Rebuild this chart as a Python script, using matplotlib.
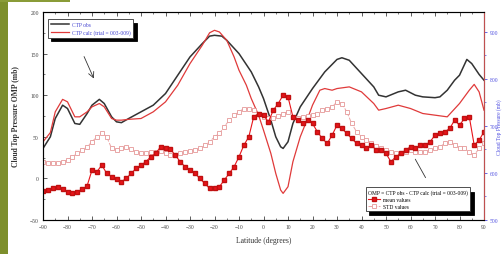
import numpy as np
import matplotlib
matplotlib.use("Agg")
import matplotlib.pyplot as plt
from matplotlib.patches import Rectangle

plt.rcParams['font.family'] = ['Liberation Serif', 'DejaVu Serif']

# CTP obs / calc curves (latitude, value on left scale)
obs_lat = [-90, -87, -85, -82, -80, -77, -75, -72, -70, -67, -65, -62, -60, -58, -55, -50, -45, -40,
           -35, -30, -25, -22, -20, -17, -15, -10, -5, -2, 0, 3, 5, 7, 8, 10, 12, 15, 20, 25, 30, 32,
           35, 40, 45, 47, 50, 55, 58, 62, 65, 70, 72, 75, 78, 80, 83, 85, 88, 90]
obs_val = [36, 50, 72, 88, 84, 66, 65, 78, 88, 95, 90, 74, 68, 67, 72, 80, 88, 102,
           124, 146, 162, 171, 172, 171, 166, 150, 128, 110, 96, 70, 50, 38, 36, 44, 66, 86, 108, 128, 143, 145,
           142, 126, 110, 100, 98, 104, 106, 100, 98, 97, 98, 106, 118, 124, 143, 138, 125, 118]

calc_lat = [-90, -87, -85, -82, -80, -77, -75, -72, -70, -67, -65, -62, -60, -58, -55, -50, -45, -40,
            -35, -30, -25, -22, -20, -18, -15, -12, -10, -7, -5, -2, 0, 3, 5, 7, 8, 10, 12, 15, 18, 20,
            23, 25, 28, 30, 35, 40, 45, 47, 50, 55, 60, 65, 70, 75, 80, 84, 86, 88, 90]
calc_val = [44, 55, 80, 95, 92, 74, 74, 80, 86, 90, 86, 72, 70, 70, 71, 72, 80, 92,
            112, 138, 160, 175, 178, 176, 166, 146, 130, 112, 96, 76, 58, 30, 6, -14, -18, -10, 20, 50, 72, 88,
            106, 108, 106, 108, 110, 104, 90, 82, 84, 88, 84, 78, 76, 74, 90, 106, 113, 104, 82]

# OMP statistics every 2 degrees
omp_lat = list(range(-90, 91, 2))
mean_val = [-15, -14, -12, -10, -13, -16, -18, -16, -13, -9,
            10, 8, 16, 6, 2, -1, -4, 0, 6, 12,
            16, 20, 26, 30, 38, 37, 35, 28, 20, 14,
            10, 6, 0, -6, -12, -12, -10, -2, 6, 14,
            26, 40, 50, 74, 78, 76, 68, 82, 90, 100,
            98, 74, 70, 66, 70, 66, 56, 48, 42, 52,
            64, 60, 54, 48, 42, 40, 36, 40, 34, 34,
            30, 20, 26, 30, 34, 38, 36, 40, 40, 44,
            52, 54, 56, 60, 70, 64, 72, 74, 40, 46, 56]
std_val = [20, 19, 18, 18, 20, 22, 26, 30, 34, 38,
           44, 50, 55, 50, 36, 34, 36, 38, 35, 32,
           30, 31, 32, 32, 33, 30, 28, 28, 30, 32,
           33, 34, 36, 40, 44, 50, 54, 62, 70, 76,
           80, 84, 84, 82, 78, 74, 72, 73, 75, 78,
           80, 74, 72, 74, 75, 76, 78, 82, 84, 86,
           92, 90, 80, 66, 56, 50, 46, 42, 39, 37,
           34, 32, 30, 30, 32, 34, 32, 32, 32, 34,
           36, 38, 42, 44, 40, 37, 36, 32, 28, 36, 42]

fig = plt.figure(figsize=(5.03, 2.55), dpi=100, facecolor='white')
fig.patches.append(Rectangle((0, 0), 8 / 503, 1, transform=fig.transFigure,
                             facecolor='#7d8f2c', edgecolor='none', zorder=0))
fig.patches.append(Rectangle((0, 1 - 3 / 255), 70 / 503, 3 / 255, transform=fig.transFigure,
                             facecolor='#8a9c38', edgecolor='none', zorder=0))

ax = fig.add_axes([43 / 503, 1 - 221 / 255, 441 / 503, 208 / 255])
ax.set_xlim(-90, 90)
ax.set_ylim(-50, 200)

l1, = ax.plot(obs_lat, obs_val, color='#333333', lw=1.1, label='CTP obs')
l2, = ax.plot(calc_lat, calc_val, color='#e03a3a', lw=0.9, label='CTP calc (trial = 003-009)')
l4, = ax.plot(omp_lat, std_val, color='#eba5a5', lw=0.7, ls='--', marker='s', ms=2.6,
              mfc='white', mec='#e59898', mew=0.6, label='STD values')
l3, = ax.plot(omp_lat, mean_val, color='#e8141a', lw=0.8, marker='s', ms=2.6,
              mfc='#e8141a', mec='#c01010', label='mean values')

ax.set_xticks(range(-90, 91, 10))
ax.set_xticks(range(-90, 91, 5), minor=True)
ax.set_yticks(range(-50, 201, 50))
ax.set_yticks(range(-50, 201, 25), minor=True)
ax.tick_params(which='both', direction='in', top=True, labelsize=4, pad=3, colors='#444444')
ax.tick_params(which='major', length=3, width=0.6)
ax.tick_params(which='minor', length=1.5, width=0.5)
for s in ax.spines.values():
    s.set_linewidth(0.8)
    s.set_color('#555555')
ax.set_xlabel('Latitude (degrees)', fontsize=5.5, labelpad=5, color='#333333')
ax.set_ylabel('Cloud Top Pressure OMP (mb)', fontsize=5.5, fontweight='bold', labelpad=7, color='#333333')

ax2 = ax.twinx()
ax2.set_ylim(500, 942.5)
ax2.set_yticks([500, 600, 700, 800, 900])
ax2.set_yticks(range(500, 901, 50), minor=True)
ax2.tick_params(which='both', direction='out', colors='#5050e0', labelsize=4, pad=1.5)
ax2.tick_params(which='major', length=2.5, width=0.6)
ax2.tick_params(which='minor', length=1.2, width=0.5)
ax2.spines['right'].set_color('#c05050')
fig.text(499.5 / 503, 0.5, 'Cloud Top Pressure (mb)', rotation=90, ha='center', va='center',
         fontsize=4, color='#5050e0')

leg1 = ax.legend(handles=[l1, l2], loc='upper left', bbox_to_anchor=(0.005, 0.978),
                 fontsize=4, frameon=True, fancybox=False, handlelength=3.2,
                 borderpad=0.5, labelspacing=0.4, handletextpad=0.6,
                 shadow={'color': 'black', 'alpha': 1, 'ox': 2.5, 'oy': -2.5})
leg1.get_frame().set_edgecolor('#333333')
leg1.get_frame().set_linewidth(0.6)
for t in leg1.get_texts():
    t.set_color('#4040d0')
ax.add_artist(leg1)

leg2 = ax.legend(handles=[l3, l4], loc='lower right', bbox_to_anchor=(0.975, 0.03),
                 title='OMP = CTP obs - CTP calc (trial = 003-009)', title_fontsize=4,
                 fontsize=4, frameon=True, fancybox=False, handlelength=2.2,
                 borderpad=0.4, labelspacing=0.3, handletextpad=0.5, alignment='left',
                 shadow={'color': 'black', 'alpha': 1, 'ox': 2.5, 'oy': -3})
leg2.get_frame().set_edgecolor('#333333')
leg2.get_frame().set_linewidth(0.6)

ax.annotate('', xy=(-68.8, 117), xytext=(-73.7, 149.5),
            arrowprops=dict(arrowstyle='->', color='#333333', lw=0.6))
ax.annotate('', xy=(61.4, 26), xytext=(66.7, -2),
            arrowprops=dict(arrowstyle='-', color='#333333', lw=0.6))

fig.savefig('out.png', dpi=100, facecolor=fig.get_facecolor())
